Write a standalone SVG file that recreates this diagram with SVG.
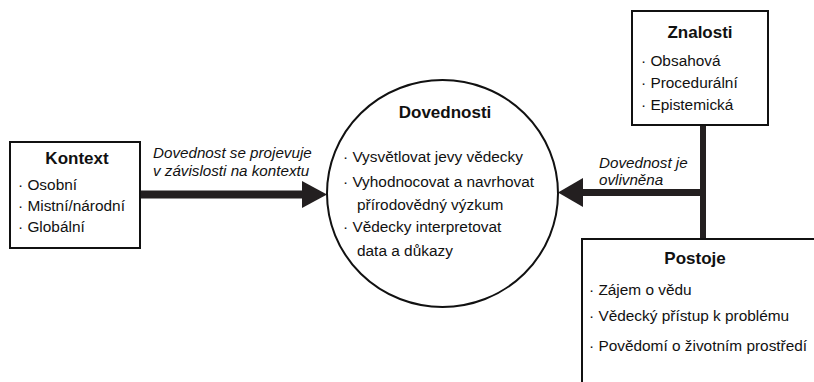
<svg xmlns="http://www.w3.org/2000/svg" width="814" height="382" viewBox="0 0 814 382">
<style>
  .box { fill: #ffffff; stroke: #111111; stroke-width: 2; }
  .t { font-family: "Liberation Sans", Arial, sans-serif; font-size: 15.4px; fill: #111111; }
  .h { font-family: "Liberation Sans", Arial, sans-serif; font-size: 17px; font-weight: bold; fill: #111111; text-anchor: middle; }
  .i { font-family: "Liberation Sans", Arial, sans-serif; font-size: 15.2px; font-style: italic; fill: #111111; }
  .bar { stroke: #231f20; fill: none; }
  .head { fill: #231f20; }
</style>
<rect width="814" height="382" fill="#ffffff"/>
<g id="connectors">
  <line class="bar" x1="140" y1="194.5" x2="304" y2="194.5" stroke-width="8"/>
  <polygon class="head" points="302,181 327,194.5 302,208"/>
  <line class="bar" x1="703" y1="125" x2="703" y2="240" stroke-width="6"/>
  <line class="bar" x1="706" y1="192.5" x2="581" y2="192.5" stroke-width="7"/>
  <polygon class="head" points="583,178 558,192.5 583,207"/>
  <text class="i" x="153" y="158">Dovednost se projevuje</text>
  <text class="i" x="153" y="176">v závislosti na kontextu</text>
  <text class="i" x="599" y="168">Dovednost je</text>
  <text class="i" x="599" y="185">ovlivněna</text>
</g>
<g id="kontext">
  <rect class="box" x="10" y="142" width="130" height="106"/>
  <text class="h" x="77" y="164">Kontext</text>
  <text class="t" x="18" y="190">· Osobní</text>
  <text class="t" x="18" y="211">· Mistní/národní</text>
  <text class="t" x="18" y="232">· Globální</text>
</g>
<g id="dovednosti">
  <ellipse cx="442.5" cy="193.5" rx="115.5" ry="113.5" fill="#ffffff" stroke="#111111" stroke-width="2"/>
  <text class="h" x="445" y="118">Dovednosti</text>
  <text class="t" x="343" y="162">· Vysvětlovat jevy vědecky</text>
  <text class="t" x="343" y="187">· Vyhodnocovat a navrhovat</text>
  <text class="t" x="357" y="210">přírodovědný výzkum</text>
  <text class="t" x="343" y="232">· Vědecky interpretovat</text>
  <text class="t" x="357" y="256">data a důkazy</text>
</g>
<g id="znalosti">
  <rect class="box" x="632" y="11" width="136" height="114"/>
  <text class="h" x="700" y="38">Znalosti</text>
  <text class="t" x="641" y="66">· Obsahová</text>
  <text class="t" x="641" y="88">· Procedurální</text>
  <text class="t" x="641" y="110">· Epistemická</text>
</g>
<g id="postoje">
  <rect class="box" x="582" y="239" width="300" height="200"/>
  <text class="h" x="695" y="264">Postoje</text>
  <text class="t" x="589" y="295">· Zájem o vědu</text>
  <text class="t" x="589" y="321">· Vědecký přístup k problému</text>
  <text class="t" x="589" y="351">· Povědomí o životním prostředí</text>
</g>
</svg>
